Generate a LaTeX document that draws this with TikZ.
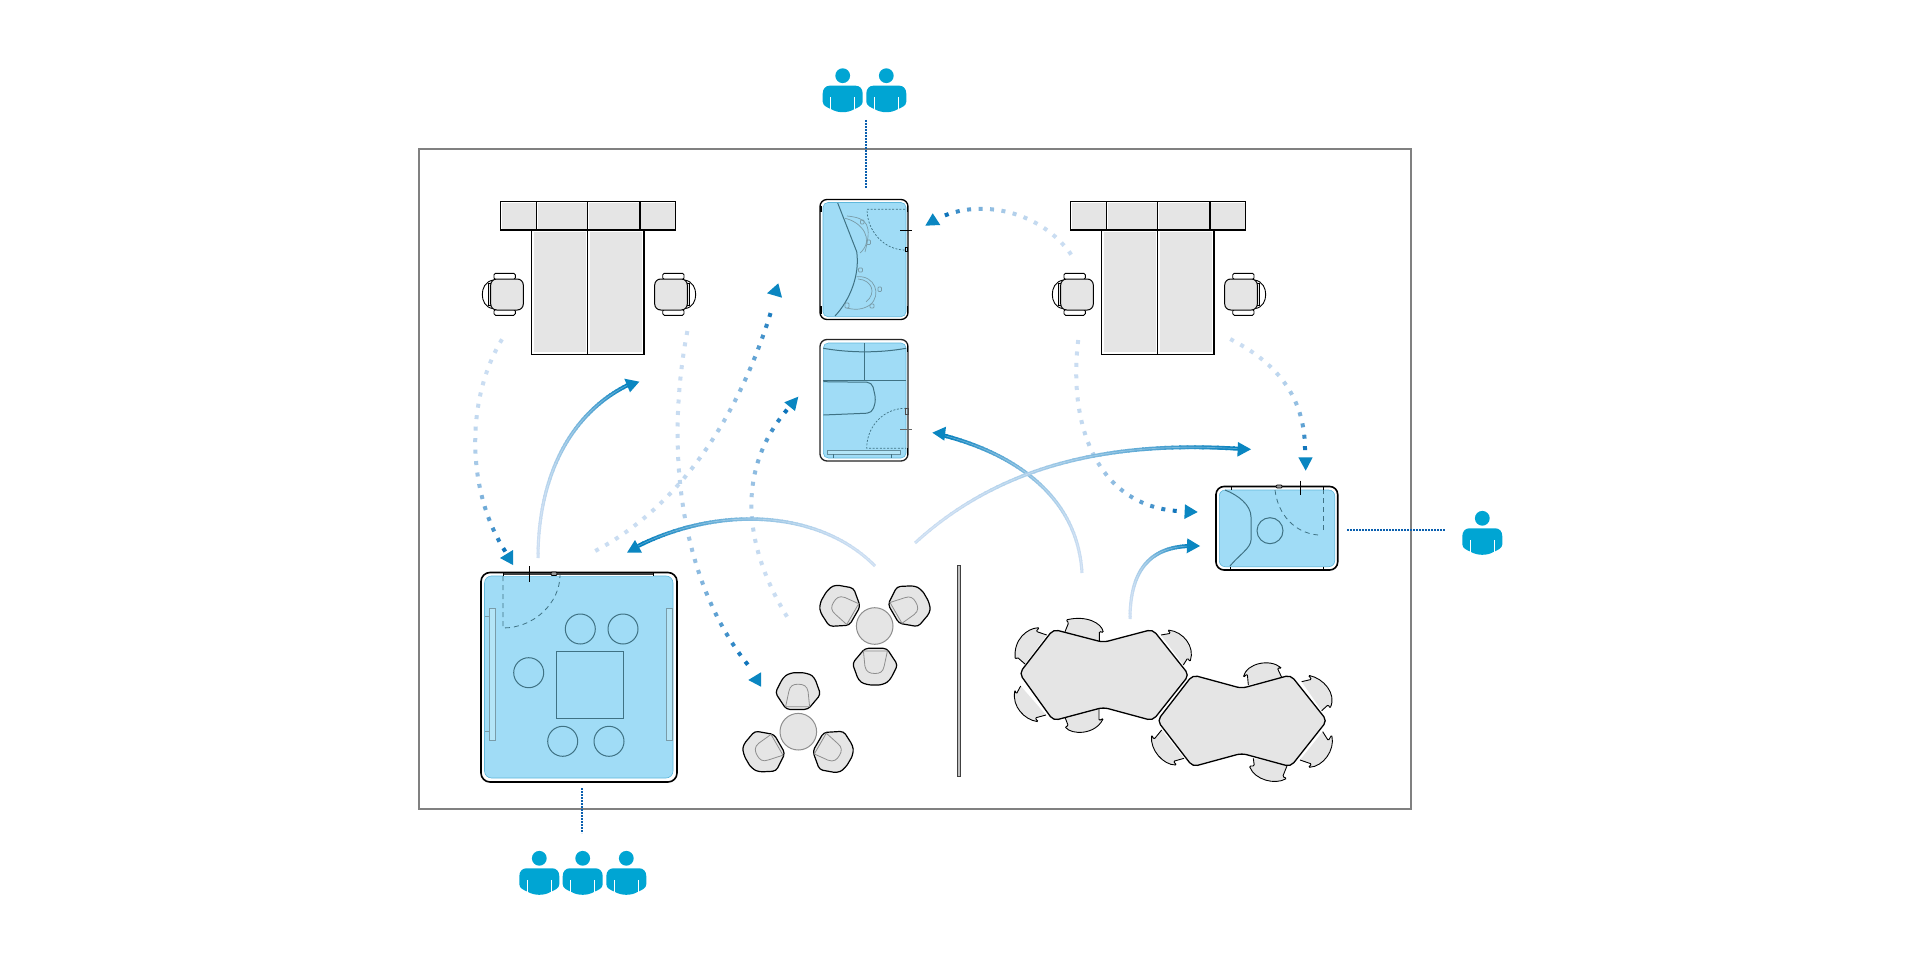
\documentclass[tikz,border=0pt]{standalone}
\usetikzlibrary{decorations.markings}
\definecolor{framegrey}{HTML}{808080}
\definecolor{roomblue}{HTML}{A0DCF6}
\definecolor{benchblue}{HTML}{B4E5F7}
\definecolor{roomedge}{HTML}{5FB8DC}
\definecolor{roomline}{HTML}{3F7284}
\definecolor{personblue}{HTML}{00A5D3}
\definecolor{headblue}{HTML}{0A86C1}
\definecolor{fadepale}{HTML}{CADDF2}
\definecolor{fadedeep}{HTML}{0580BE}
\definecolor{dotdeep}{HTML}{0A72BA}
\definecolor{linkblue}{HTML}{0A5FAE}
\definecolor{seatgrey}{HTML}{E5E5E5}
\definecolor{softline}{HTML}{8E8E8E}
\tikzset{
  roomouter/.style={draw=black,line width=1.6pt,fill=white},
  roominner/.style={draw=roomedge,line width=.6pt,fill=roomblue},
  fixture/.style={draw=roomline,line width=1pt},
  doorline/.style={draw=roomline,line width=.8pt,dash pattern=on 5pt off 4pt},
  doorfine/.style={draw=roomline,line width=.7pt,dash pattern=on 2pt off 1.6pt},
  seatline/.style={draw=black,line width=1pt,fill=seatgrey},
  benchseat/.style={draw=black,line width=.9pt,fill=seatgrey,rounded corners=1.2pt},
  tableline/.style={draw=black,line width=1.3pt,fill=seatgrey,rounded corners=5pt},
  linkdots/.style={draw=linkblue,line width=2pt,dash pattern=on 1.8pt off 1.2pt},
  arrowhead/.style={fill=headblue},
  personpic/.pic={
    \fill[personblue] (0,0) circle (7.4pt);
    \fill[personblue] (-20,18) .. controls (-20,13) and (-17,10) .. (-13,10) -- (13,10)
      .. controls (17,10) and (20,13) .. (20,18) -- (20,26) .. controls (20,30) and (15,32) .. (11.5,33.5)
      .. controls (5,37.5) and (-5,37.5) .. (-11.5,33.5) .. controls (-15,32) and (-20,30) .. (-20,26) -- cycle;
    \draw[white,line width=.9pt] (-12,21.5) -- (-12,37) (12,21.5) -- (12,37);
  },
  deskchair/.pic={
    \draw[seatline,fill=white,line width=.9pt] (-13.7,-14.5) .. controls (-22,-13) and (-24.7,-6) .. (-24.7,0)
      .. controls (-24.7,6) and (-22,13) .. (-13.7,14.2);
    \draw[seatline,fill=seatgrey,line width=.9pt] (-18.7,-11) rectangle (-15,11);
    \draw[seatline,fill=white,line width=.9pt,rounded corners=1.5pt] (-13,-21.2) rectangle (8.3,-15);
    \draw[seatline,fill=white,line width=.9pt,rounded corners=1.5pt] (-13,15) rectangle (8.3,20.8);
    \draw[seatline,rounded corners=6pt] (-16.3,-15.5) rectangle (16.3,15.5);
  },
  loungeseat/.pic={
    \draw[seatline,line width=1.2pt,rounded corners=3.5pt] (-9.7,22.3) -- (12,22.3) -- (23,39) -- (15.3,54) .. controls (10,58) and (5,59) .. (.3,59) .. controls (-5,59) and (-11,58) .. (-16.3,54) -- (-22.3,37.3) -- cycle;
    \draw[draw=softline,line width=.8pt] (-11.3,25) -- (12.7,25) -- (9.5,40) .. controls (8.5,46) and (5,47.5) .. (.3,47.5) .. controls (-5,47.5) and (-8.8,46) .. (-9.8,40) -- cycle;
  },
}
\newcommand{\fadesolid}[4]{%
  \foreach \i in {1,...,50}{%
    \pgfmathsetmacro{\tb}{\i/50}%
    \pgfmathsetmacro{\ta}{max(0,(\i-1.25)/50)}%
    \pgfmathtruncatemacro{\pc}{100*\tb*\tb}%
    \pgfmathsetmacro{\segw}{3.0+1.0*\tb}%
    \path (#1) .. controls (#2) and (#3) .. (#4) coordinate[pos=\ta] (ua) coordinate[pos=\tb] (ub);
    \draw[line width=\segw pt,color=fadedeep!\pc!fadepale] (ua) -- (ub);
  }%
  \draw[white,opacity=.3,line width=.7pt] (#1) .. controls (#2) and (#3) .. (#4);
}
\newcommand{\fadedots}[4]{%
  \path[decorate,decoration={markings,mark=between positions 0 and 1 step 11.5pt with {%
    \pgfmathsetmacro{\tb}{\pgfkeysvalueof{/pgf/decoration/mark info/distance from start}/\pgfdecoratedpathlength}%
    \pgfmathtruncatemacro{\pc}{100*\tb*\tb*\tb}%
    \fill[color=dotdeep!\pc!fadepale] (-2pt,-2pt) rectangle (2pt,2pt);
  }}] (#1) .. controls (#2) and (#3) .. (#4);
}
\begin{document}
\begin{tikzpicture}[x=1pt,y=-1pt]
\useasboundingbox (0,0) rectangle (1920,960);
\fill[white] (0,0) rectangle (1920,960);

% outer frame
\draw[framegrey,line width=1.1pt] (419,149) rectangle (1411,809);

% dotted paths
\fadedots{501,341}{466,400}{466,490}{505,551}
\fadedots{597,550}{690,500}{745,400}{773,305}
\fadedots{687,333}{665,450}{680,580}{748,665}
\fadedots{786,615}{735,530}{745,460}{786,411}
\fadedots{1070,253}{1040,212}{985,200}{946,215}
\fadedots{1078,342}{1068,430}{1100,505}{1177,511}
\fadedots{1232,340}{1280,365}{1305,400}{1305,450}

% solid paths
\fadesolid{538,558}{538,470}{575,410}{630,384}
\fadesolid{875,566}{820,510}{720,505}{638,546}
\fadesolid{1082,573}{1078,500}{1020,455}{942,435}
\fadesolid{915,543}{1000,465}{1110,440}{1243,449}
\fadesolid{1130,619}{1130,570}{1150,547}{1190,546}

% arrow heads
\fill[arrowhead] (513,550) -- (500,558) -- (513,565) -- cycle;
\fill[arrowhead] (624.3,378.7) -- (639.3,381.7) -- (630,392.3) -- cycle;
\fill[arrowhead] (778.3,283.3) -- (767,293.3) -- (782,297.7) -- cycle;
\fill[arrowhead] (761,672.3) -- (748.3,680) -- (761,686.7) -- cycle;
\fill[arrowhead] (798.3,396.7) -- (784.3,402.3) -- (795,411) -- cycle;
\fill[arrowhead] (635,540) -- (627,552.7) -- (642,552.7) -- cycle;
\fill[arrowhead] (1238,442) -- (1251,449.3) -- (1237.3,456.7) -- cycle;
\fill[arrowhead] (946,426.7) -- (932.3,432.7) -- (944.3,440.7) -- cycle;
\fill[arrowhead] (932.7,213.3) -- (925.3,225.7) -- (940.3,225) -- cycle;
\fill[arrowhead] (1185,504.3) -- (1197.7,512) -- (1184.3,519) -- cycle;
\fill[arrowhead] (1298.3,457.3) -- (1312.7,457.3) -- (1305.7,470.7) -- cycle;
\fill[arrowhead] (1187.3,538.3) -- (1200,546) -- (1186.7,553.3) -- cycle;

% links to people
\draw[linkdots] (865.7,120) -- (865.7,188);
\draw[linkdots] (581.5,788) -- (581.5,833);
\draw[linkdots] (1347,530) -- (1445,530);

% people
\pic at (842.7,75.7) {personpic};
\pic at (886.3,75.7) {personpic};
\pic at (539.3,858.3) {personpic};
\pic at (582.7,858.3) {personpic};
\pic at (626.3,858.3) {personpic};
\pic at (1482.3,518.3) {personpic};

% desks
\foreach \dx in {0,570}{
\begin{scope}[shift={(\dx,0)}]
  \draw[black,line width=1.3pt,fill=white] (531.7,230) rectangle (644,354.3);
  \fill[seatgrey] (534,232) rectangle (585.5,352);
  \fill[seatgrey] (590,232) rectangle (641.7,352);
  \draw[black,line width=1.3pt] (587.7,230) -- (587.7,354.3);
  \draw[black,line width=1.4pt,fill=white] (500.7,201.7) rectangle (675.7,230);
  \fill[seatgrey] (502,203) rectangle (535.7,228.7);
  \fill[seatgrey] (537.7,203) rectangle (586.7,228.7);
  \fill[seatgrey] (588.7,203) rectangle (639,228.7);
  \fill[seatgrey] (641,203) rectangle (674.5,228.7);
  \draw[black,line width=1.2pt] (536.7,201.7) -- (536.7,230) (587.7,201.7) -- (587.7,230) (640,201.7) -- (640,230);
  \pic at (507,294.5) {deskchair};
  \pic[xscale=-1] at (671,294.5) {deskchair};
\end{scope}
}

% big room
\draw[roomouter,rounded corners=9pt] (481,572.5) rectangle (677,782);
\draw[roominner,rounded corners=7pt] (484.5,576) rectangle (673,778);
\fill[white] (503,572.5) rectangle (653,575.5);
\draw[draw=black!75,line width=1.8pt] (503,574) -- (653,574);
\draw[black,line width=.8pt] (503,572.5) -- (503,576) (653,572.5) -- (653,576);
\draw[doorline] (503,576) -- (503,628) .. controls (534,628) and (560,603) .. (560,575);
\draw[black,line width=.8pt] (529.7,566) -- (529.7,582);
\draw[black,line width=.8pt,fill=black!40,rounded corners=1pt] (551,572) rectangle (557,575.5);
\draw[fixture] (556.3,651) rectangle (623.3,718.3);
\draw[fixture] (580.3,629) circle (15pt) (623,629) circle (15pt) (528.7,672.7) circle (15pt) (562.7,741.3) circle (15pt) (609,741.3) circle (15pt);
\draw[fixture,fill=benchblue,draw=roomline!70] (489.7,608.7) rectangle (495.3,740.3);
\draw[fixture,fill=benchblue,draw=roomline!70] (666.7,608.7) rectangle (672,740.3);
\draw[fixture,draw=roomline!70] (485,616) -- (489.7,616) (485,731.7) -- (489.7,731.7);

% upper middle room
\draw[roomouter,line width=1.3pt,rounded corners=7pt] (820,199.5) rectangle (908,319.5);
\draw[roominner,rounded corners=5pt] (823,202.5) rectangle (906,316.7);
\draw[black,line width=1.6pt] (820.7,206) -- (820.7,212) (820.7,306) -- (820.7,314) (907.5,206) -- (907.5,212) (907.5,306) -- (907.5,314);
\draw[doorfine] (905,209.3) -- (867,209.3) .. controls (867,231) and (884,250) .. (905,250);
\draw[black,line width=1pt] (900,231) -- (911.7,231);
\draw[black,line width=.7pt] (905.5,247) rectangle (907.5,251);
\draw[fixture,line width=1pt] (837.7,203) -- (856.7,251.7) .. controls (860,275) and (850,300) .. (835,316);
\begin{scope}[draw=roomline!70,line width=.7pt]
  \draw (845,218.3) .. controls (862,222) and (875,240) .. (860,253);
  \draw (847,216) .. controls (868,218) and (872,225) .. (865,252);
  \draw (856.7,276.7) .. controls (875,275) and (882,295) .. (870,305) .. controls (862,310) and (855,310) .. (846.7,308);
  \draw (858,279) .. controls (872,280) and (877,293) .. (866,302);
  \draw[rounded corners=.8pt] (860.5,220) rectangle (864,224) (866.5,240) rectangle (870.5,244.5) (858.5,268) rectangle (862.5,272) (878,287) rectangle (881.5,291.5) (870,304) rectangle (874,308) (845,303) rectangle (849,308);
\end{scope}

% lower middle room
\draw[roomouter,line width=1.3pt,rounded corners=7pt,draw=black!85] (820,339.5) rectangle (908,461);
\draw[roominner,rounded corners=5pt] (823.3,343) rectangle (906,458);
\draw[black,line width=1.6pt] (907.5,344) -- (907.5,352) (907.5,448) -- (907.5,456);
\draw[fixture] (823.3,348.3) .. controls (850,353) and (880,353) .. (906,348.3);
\draw[fixture] (864.3,343) -- (864.3,380.7) (823.3,380.7) -- (906,380.7);
\draw[fixture,rounded corners=5pt] (823.3,381.7) -- (872,382.3) -- (876,400) -- (872,413) -- (823.3,415);
\draw[doorfine] (906,408.3) .. controls (884,408) and (866.7,426) .. (866.7,448.3) -- (906,448.3);
\draw[black!60,line width=.6pt] (900,429) -- (911.7,429);
\draw[black!70,line width=.6pt] (905.5,408) rectangle (908,414);
\draw[fixture,draw=roomline!80,fill=benchblue,line width=.6pt] (827.3,450.7) rectangle (900,454.3);
\draw[fixture,line width=.5pt] (833.5,454.3) -- (833.5,457.5) (891.5,454.3) -- (891.5,457.5);

% small right room
\draw[roomouter,rounded corners=8pt] (1216,486.5) rectangle (1337.7,570);
\draw[roominner,rounded corners=6pt] (1219.3,490) rectangle (1334.7,566.7);
\draw[black,line width=.8pt] (1231,486.5) -- (1231,490) (1323,486.5) -- (1323,490) (1230,566.7) -- (1230,570) (1323,566.7) -- (1323,570);
\draw[fixture] (1225,490) .. controls (1238,495) and (1251,505) .. (1251,517) -- (1251,540) .. controls (1251,548) and (1238,556) .. (1230,566);
\draw[fixture] (1270,530.7) circle (13pt);
\draw[doorline] (1275,490) .. controls (1278,515) and (1295,533) .. (1318,535);
\draw[doorline] (1323.3,530) -- (1323.3,490);
\draw[black,line width=.8pt] (1300.3,480.7) -- (1300.3,495);
\draw[black,line width=.7pt,fill=black!40,rounded corners=1pt] (1276,485) rectangle (1282,488);

% lounge groups
\draw[draw=softline,line width=1pt,fill=seatgrey] (874.7,626) circle (18.3pt);
\foreach \rr in {0,120,240}{
  \pic[rotate=\rr] at (874.7,626) {loungeseat};
}
\draw[draw=softline,line width=1pt,fill=seatgrey] (798.3,731.7) circle (18.3pt);
\foreach \rr in {60,180,300}{
  \pic[rotate=\rr] at (798.3,731.7) {loungeseat};
}

% divider wall
\draw[draw=black!75,line width=1pt,fill=black!25] (957.5,565.7) rectangle (960.5,776.7);

% bench tables
\begin{scope}[shift={(1000,590)},scale=1/3]
  \draw[benchseat] (140,135) -- (108,124) -- (118,113) .. controls (80,115) and (40,150) .. (46,208) -- (52,202) -- (75,222);
  \draw[benchseat] (195,125) -- (206,98) -- (198,90) .. controls (260,75) and (305,100) .. (310,128) -- (298,124) -- (298,155);
  \draw[benchseat] (483,135) -- (512,130) -- (503,120) .. controls (550,125) and (585,170) .. (570,215) -- (563,204) -- (550,225);
  \draw[benchseat] (62,288) -- (49,312) -- (45,300) .. controls (35,350) and (75,390) .. (115,395) -- (105,384) -- (138,375);
  \draw[benchseat] (195,382) -- (205,408) -- (195,410) .. controls (215,435) and (285,435) .. (310,385) -- (297,392) -- (297,355);
  \draw[benchseat] (745,285) -- (742,252) -- (730,262) .. controls (740,220) and (810,205) .. (845,235) -- (832,234) -- (845,262);
  \draw[benchseat] (905,275) -- (935,268) -- (925,256) .. controls (970,265) and (1010,310) .. (990,355) -- (985,344) -- (965,362);
  \draw[benchseat] (968,425) -- (985,452) -- (995,435) .. controls (1005,480) and (970,530) .. (925,532) -- (935,522) -- (900,510);
  \draw[benchseat] (760,505) -- (763,528) -- (748,528) .. controls (765,570) and (825,585) .. (860,565) -- (848,560) -- (862,525);
  \draw[benchseat] (485,420) -- (462,448) -- (455,435) .. controls (450,480) and (490,525) .. (530,525) -- (520,514) -- (552,505);
  \draw[tableline] (58,250) -- (160,118) -- (310,157) -- (458,118) -- (567,255) -- (458,392) -- (310,352) -- (160,392) -- cycle;
  \draw[tableline] (472,392) -- (578,255) -- (725,295) -- (872,255) -- (981,392) -- (872,530) -- (725,490) -- (578,530) -- cycle;
\end{scope}
\end{tikzpicture}
\end{document}
